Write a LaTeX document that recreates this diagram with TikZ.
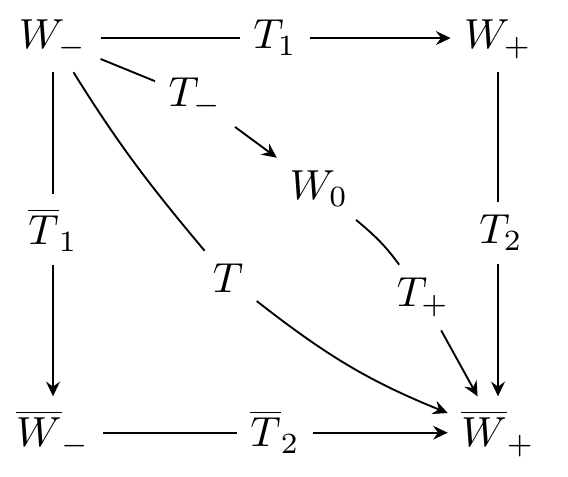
\documentclass[tikz,border=0pt]{standalone}
\usetikzlibrary{arrows.meta}
\begin{document}
\begin{tikzpicture}[x=0.238pt,y=0.238pt,
  lbl/.style={inner sep=3pt, anchor=base},
  arr/.style={-{Stealth[length=3.5pt,width=3.3pt,inset=1.2pt]}},
  line width=0.45pt]
\useasboundingbox (0,0) rectangle (568,-477);
% main nodes
\node[lbl] (Wm) at (53,-49) {$W_-$};
\node[lbl] (Wp) at (498,-49) {$W_+$};
\node[lbl] (Wmb) at (53,-447) {$\overline{W}_-$};
\node[lbl] (Wpb) at (498,-447) {$\overline{W}_+$};
\node[lbl] (W0) at (319,-200) {$W_0$};
% labels
\node[lbl] (T1) at (275,-49) {$T_1$};
\node[lbl] (Tb1) at (53,-245) {$\overline{T}_1$};
\node[lbl] (T2) at (501,-244) {$T_2$};
\node[lbl] (Tb2) at (275,-447) {$\overline{T}_2$};
\node[lbl] (Tm) at (195,-107) {$T_-$};
\node[lbl] (Tp) at (423,-307) {$T_+$};
\node[lbl] (T) at (228,-293) {$T$};
% connectors
\draw ([yshift=2.6pt]Wm.base east) -- ([yshift=2.6pt]T1.base west);
\draw[arr] ([yshift=2.6pt]T1.base east) -- ([yshift=2.6pt]Wp.base west);
\draw (Wp) -- (Wp |- T2.north);
\draw[arr] (T2.south -| Wpb) -- (Wpb);
\draw (Wm) -- (Tb1);
\draw[arr] (Tb1) -- (Wmb);
\draw ([yshift=3.4pt]Wmb.base east) -- ([yshift=3.4pt]Tb2.base west);
\draw[arr] ([yshift=3.4pt]Tb2.base east) -- ([yshift=3.4pt]Wpb.base west);
\draw (Wm) -- (Tm);
\draw[arr] (Tm) -- (W0);
\draw (W0) to[out=-40,in=126] (Tp);
\draw[arr] (Tp) -- (Wpb);
\draw (Wm) to[out=-58,in=130] (T);
\draw[arr] (T) to[out=-38,in=158] (Wpb);
\end{tikzpicture}
\end{document}
